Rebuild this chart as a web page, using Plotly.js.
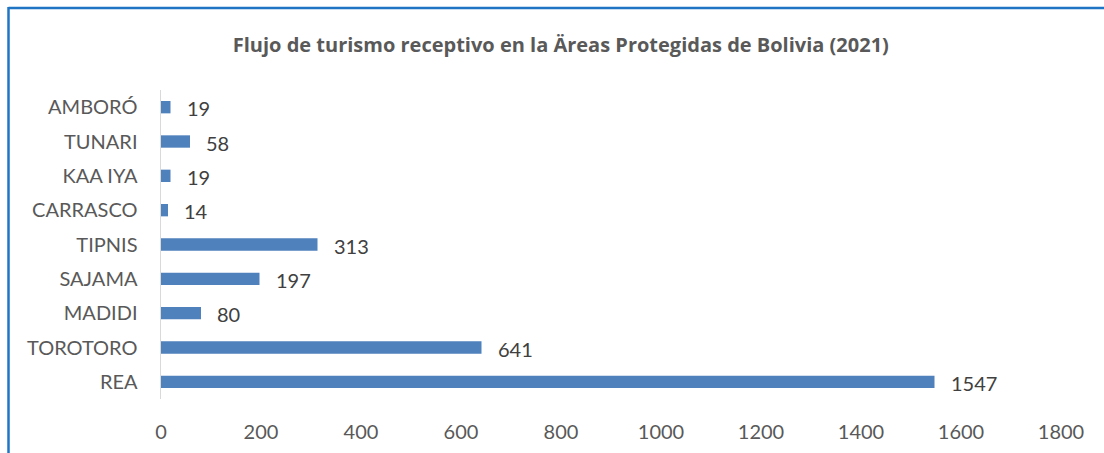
<!DOCTYPE html>
<html>
<head>
<meta charset="utf-8">
<script src="https://cdn.plot.ly/plotly-3.0.1.min.js"></script>
<style>html,body{margin:0;padding:0;background:#fff;}#chart{width:1104px;height:453px;}</style>
</head>
<body>
<div id="chart"></div>
<script>
const categories = ["AMBORÓ", "TUNARI", "KAA IYA", "CARRASCO", "TIPNIS", "SAJAMA", "MADIDI", "TOROTORO", "REA"];
const visitors = [19, 58, 19, 14, 313, 197, 80, 641, 1547];
const xTicks = [0, 200, 400, 600, 800, 1000, 1200, 1400, 1600, 1800];
const chartTitle = "Flujo de turismo receptivo en la Äreas Protegidas de Bolivia (2021)";

const FONT = "Lato, 'Open Sans', sans-serif";
const TITLE_FONT = "'Open Sans', 'Noto Sans', sans-serif";

const trace = {
  type: "bar",
  orientation: "h",
  x: visitors,
  y: categories,
  width: 0.36,
  marker: { color: "#4f81bd" },
  hoverinfo: "x+y"
};

const annotations = visitors.map((v, i) => ({
  x: v, y: categories[i], xref: "x", yref: "y",
  text: String(v), showarrow: false, xanchor: "left", yanchor: "middle",
  xshift: 14, yshift: -1,
  font: { family: FONT, size: 20, color: "#404040" }
}));

const layout = {
  width: 1104, height: 453,
  margin: { l: 161, r: 43, t: 90, b: 54 },
  paper_bgcolor: "#ffffff",
  plot_bgcolor: "#ffffff",
  title: {
    text: "<b>" + chartTitle + "</b>",
    font: { family: TITLE_FONT, size: 20, color: "#595959" },
    x: 0.508, xanchor: "center", y: 0.9, yanchor: "middle"
  },
  xaxis: {
    range: [0, 1800],
    tickvals: xTicks,
    ticktext: xTicks.map(String),
    showgrid: false, zeroline: false, showline: false,
    ticks: "outside", ticklen: 15, tickcolor: "rgba(0,0,0,0)",
    tickfont: { family: FONT, size: 20, color: "#595959" },
    fixedrange: true
  },
  yaxis: {
    type: "category",
    autorange: "reversed",
    showgrid: false, zeroline: false,
    showline: true, linecolor: "#d9d9d9", linewidth: 1.5,
    ticks: "outside", ticklen: 18, tickcolor: "rgba(0,0,0,0)",
    tickfont: { family: FONT, size: 20, color: "#595959" },
    fixedrange: true
  },
  showlegend: false,
  annotations: annotations,
  shapes: [
    { type: "line", xref: "paper", yref: "paper", x0: (8.5 - 161) / 900, x1: (1104 - 161) / 900,
      y0: (399 - 8) / 309, y1: (399 - 8) / 309, line: { color: "#1f74c4", width: 2.5 } },
    { type: "line", xref: "paper", yref: "paper", x0: (8.5 - 161) / 900, x1: (8.5 - 161) / 900,
      y0: (399 - 7) / 309, y1: (399 - 460) / 309, line: { color: "#1f74c4", width: 2.5 } }
  ]
};

Plotly.newPlot("chart", [trace], layout, { displayModeBar: false, staticPlot: true });
</script>
</body>
</html>
